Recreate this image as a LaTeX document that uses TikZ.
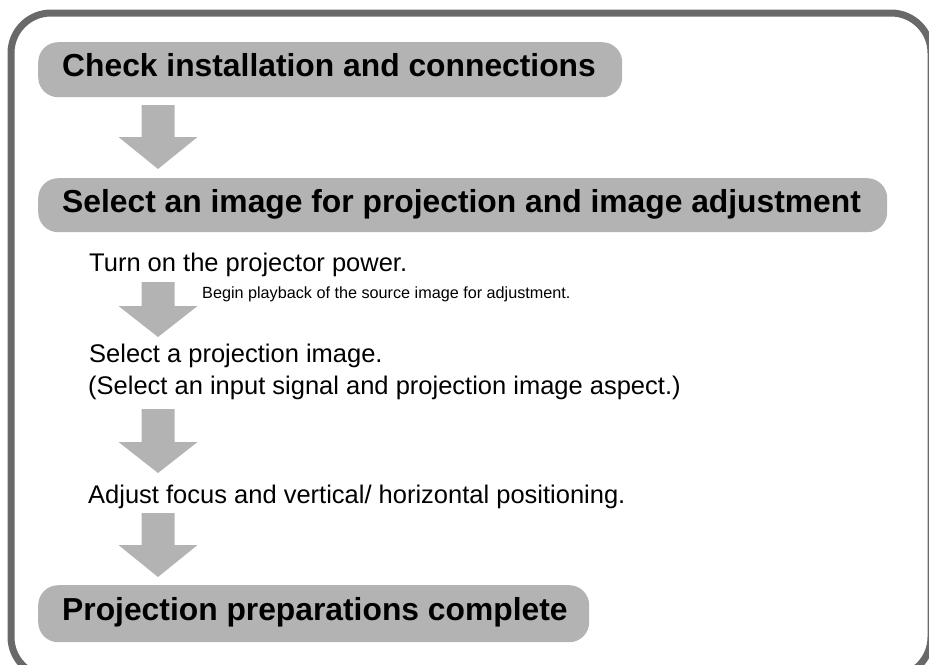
\documentclass[tikz,border=0pt]{standalone}
\usepackage{fontspec}
\setmainfont{Liberation Sans}
\definecolor{bannergray}{HTML}{B3B3B3}
\definecolor{framegray}{HTML}{696969}
\tikzset{
  banner/.style={fill=bannergray, draw=none, rounded corners=20pt, anchor=north west, inner sep=0pt},
  headtext/.style={anchor=base west, inner sep=0pt, font=\fontsize{31.8}{38}\selectfont\bfseries},
  steptext/.style={anchor=base west, inner sep=0pt, font=\fontsize{25.5}{30}\selectfont},
  notetext/.style={anchor=base west, inner sep=0pt, font=\fontsize{16.2}{20}\selectfont},
  blockarrow/.style={fill=bannergray, draw=none},
  frameline/.style={draw=framegray, line width=7pt, rounded corners=40pt}
}
\begin{document}
\begin{tikzpicture}[x=1pt,y=-1pt]
\useasboundingbox (0,0) rectangle (929,664);
\fill[white] (0,0) rectangle (929,664);
% outer frame
\draw[frameline] (11,13) rectangle (931,677);
% banners
\node[banner, minimum width=584pt, minimum height=55pt] (b1) at (38,42) {};
\node[banner, minimum width=849pt, minimum height=54pt] (b2) at (38,178) {};
\node[banner, minimum width=551pt, minimum height=57pt] (b3) at (38,585) {};
\node[headtext] (t1) at (62,76) {Check installation and connections};
\node[headtext] (t2) at (62,212) {Select an image for projection and image adjustment};
\node[headtext] (t3) at (62,620) {Projection preparations complete};
% steps
\node[steptext] (s1) at (89,271) {Turn on the projector power.};
\node[notetext] (n1) at (202,298) {Begin playback of the source image for adjustment.};
\node[steptext] (s2) at (89,362) {Select a projection image.};
\node[steptext] (s3) at (88,394) {(Select an input signal and projection image aspect.)};
\node[steptext] (s4) at (88,503) {Adjust focus and vertical/ horizontal positioning.};
% block arrows
\foreach \top/\mid/\tip in {105/137/169, 282/306/337, 409/442/473, 513/545/577}{
  \fill[blockarrow] (141.5,\top) -- (174.5,\top) -- (174.5,\mid) -- (197.5,\mid)
     -- (158,\tip) -- (118.5,\mid) -- (141.5,\mid) -- cycle;
}
\end{tikzpicture}
\end{document}
